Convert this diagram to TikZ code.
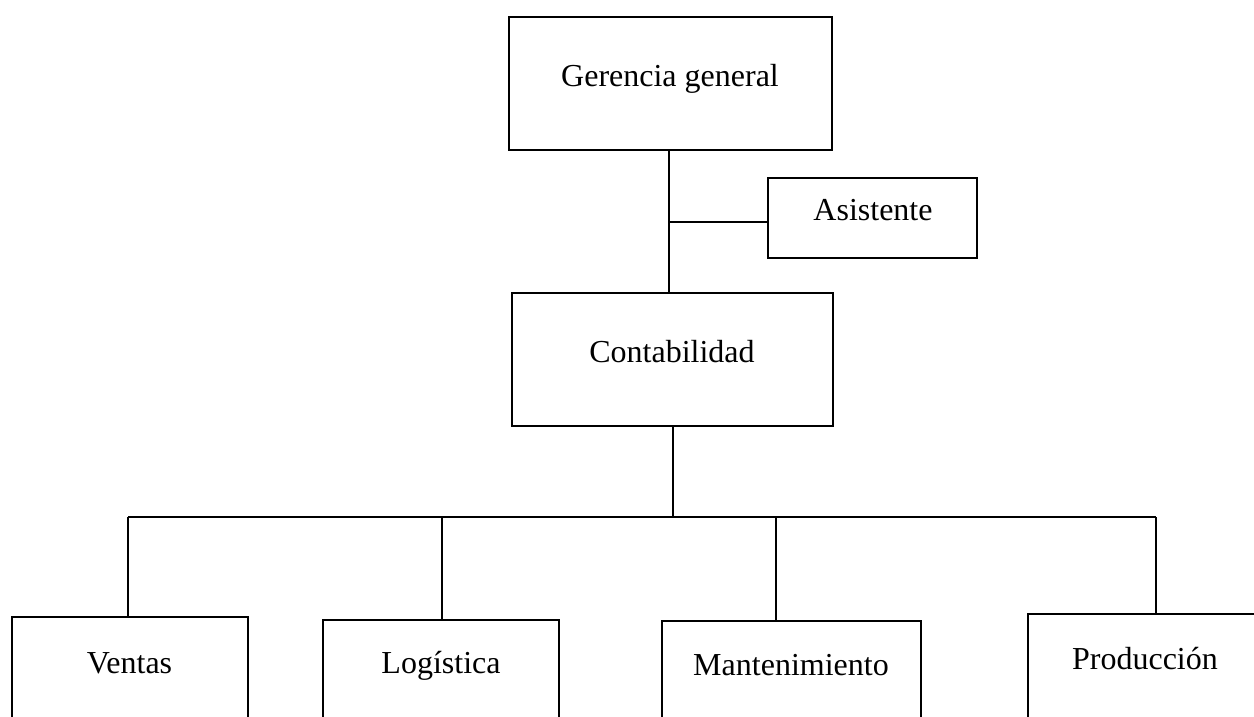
\documentclass[tikz,border=0pt]{standalone}
\usepackage{fontspec}
\setmainfont{Liberation Serif}
\begin{document}
\begin{tikzpicture}[x=1pt,y=-1pt,
  box/.style={draw=black, line width=1.3pt, fill=white, inner sep=0pt},
  lbl/.style={anchor=base, inner sep=0pt, font=\fontsize{32}{38}\selectfont},
  wire/.style={draw=black, line width=1.3pt}]
\useasboundingbox (0,0) rectangle (1254,717);
\fill[white] (0,0) rectangle (1254,717);
\clip (0,0) rectangle (1254,717);

% upper levels
\node[box, minimum width=323pt, minimum height=133pt] (ger)  at (670.5,83.5)  {};
\node[box, minimum width=209pt, minimum height=80pt]  (asis) at (872.5,218)   {};
\node[box, minimum width=321pt, minimum height=133pt] (cont) at (672.5,359.5) {};

\node[lbl] (ger-t)  at (670,87)  {Gerencia general};
\node[lbl] (asis-t) at (873,220) {Asistente};
\node[lbl] (cont-t) at (672,362) {Contabilidad};

% departments (boxes run past the lower edge)
\node[box, minimum width=236pt, minimum height=160pt] (ven)  at (130,697)    {};
\node[box, minimum width=236pt, minimum height=160pt] (log)  at (441,700)    {};
\node[box, minimum width=259pt, minimum height=160pt] (man)  at (791.5,701)  {};
\node[box, minimum width=260pt, minimum height=160pt] (pro)  at (1158,694)   {};

\node[lbl] (ven-t) at (129.5,673) {Ventas};
\node[lbl] (log-t) at (441,673)   {Logística};
\node[lbl] (man-t) at (791,675)   {Mantenimiento};
\node[lbl] (pro-t) at (1145,669)  {Producción};

% connectors
\coordinate (j1)   at (669,222);
\coordinate (bus)  at (673,517);
\coordinate (busL) at (128,517);
\coordinate (busR) at (1156,517);
\coordinate (busB) at (442,517);
\coordinate (busC) at (776,517);

\draw[wire] (ger.south -| j1) -- (cont.north -| j1);
\draw[wire] (j1) -- (asis.west |- j1);
\draw[wire] (cont.south -| bus) -- (bus);
\draw[wire] (busL) -- (busR);
\draw[wire] (busL) -- (ven.north -| busL);
\draw[wire] (busB) -- (log.north -| busB);
\draw[wire] (busC) -- (man.north -| busC);
\draw[wire] (busR) -- (pro.north -| busR);
\end{tikzpicture}
\end{document}
